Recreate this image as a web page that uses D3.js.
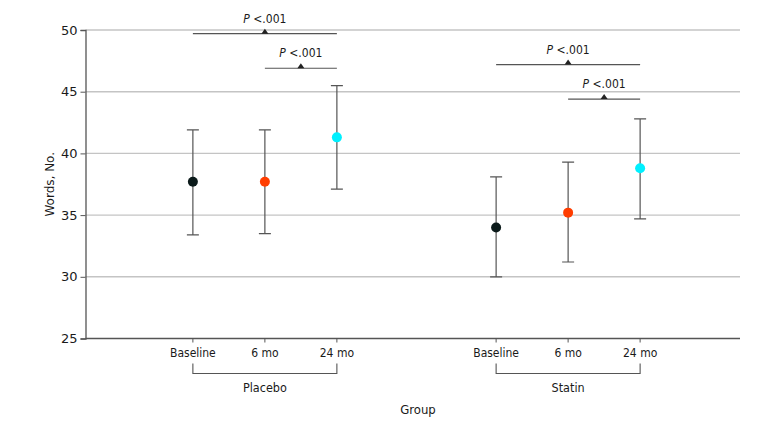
<!DOCTYPE html>
<html>
<head>
<meta charset="utf-8">
<script src="https://cdn.jsdelivr.net/npm/d3@7"></script>
<style>
	body{ margin: 0; background: #fff; }
	text{ font-family: "DejaVu Sans Condensed", "DejaVu Sans", sans-serif; fill: #1a1a1a; }
</style>
</head>
<body>
<div id="chart"></div>
<script>
// groups and time points
var groups = ["Placebo", "Statin"];
var times = ["Baseline", "6 mo", "24 mo"];
var timeColors = ["#0b1a1a", "#ff3d00", "#00f0ff"];
var yTicks = [25, 30, 35, 40, 45, 50];

// mean words, with lower / upper CI, one row per group (Baseline, 6 mo, 24 mo)
var means = [[37.7, 37.7, 41.3], [34.0, 35.2, 38.8]];
var lower = [[33.4, 33.5, 37.1], [30.0, 31.2, 34.7]];
var upper = [[41.9, 41.9, 45.5], [38.1, 39.3, 42.8]];

// significance brackets: group, from, to, height, label
var brackets = [
	{group: "Placebo", from: "Baseline", to: "24 mo", y: 49.7, label: ".001"},
	{group: "Placebo", from: "6 mo", to: "24 mo", y: 46.9, label: ".001"},
	{group: "Statin", from: "Baseline", to: "24 mo", y: 47.2, label: ".001"},
	{group: "Statin", from: "6 mo", to: "24 mo", y: 44.4, label: ".001"}
];

;(function(){
	var width = 780, height = 427,
		mLeft = 85.5, mRight = 740, mTop = 30, mBottom = 338.5;

	var svg = d3.select("#chart").append("svg")
		.attr("width", width)
		.attr("height", height);

	var y = d3.scaleLinear().domain([25, 50]).range([mBottom, mTop]);
	var gx = d3.scalePoint().domain(groups).range([89, 744]).padding(0.58);
	var tx = d3.scalePoint().domain(times).range([-72, 72]);
	function px(g, t){ return gx(g) + tx(t); }

	// grid
	svg.append("g").selectAll("line").data(yTicks.slice(1)).enter().append("line")
		.attr("x1", mLeft).attr("x2", mRight)
		.attr("y1", function(d){ return y(d); })
		.attr("y2", function(d){ return y(d); })
		.attr("stroke", "#c4c4c4").attr("stroke-width", 1.4);

	// y axis
	var yAxis = svg.append("g").attr("transform", "translate(" + mLeft + ",0)")
		.call(d3.axisLeft(y).tickValues(yTicks).tickSize(5).tickPadding(3));
	yAxis.select(".domain").attr("stroke", "#555").attr("stroke-width", 1.3);
	yAxis.selectAll(".tick line").attr("stroke", "#555");
	yAxis.selectAll(".tick text").attr("font-size", 13)
		.style("font-family", "'DejaVu Sans', sans-serif").attr("fill", "#1a1a1a");

	svg.append("text")
		.attr("transform", "translate(54," + (mTop + mBottom) / 2 + ") rotate(-90)")
		.attr("text-anchor", "middle")
		.attr("font-size", 12)
		.style("font-family", "'DejaVu Sans', sans-serif")
		.text("Words, No.");

	// x axis line
	svg.append("line")
		.attr("x1", mLeft).attr("x2", mRight)
		.attr("y1", mBottom).attr("y2", mBottom)
		.attr("stroke", "#555").attr("stroke-width", 1.3);

	groups.forEach(function(g, gi){
		var ga = svg.append("g");
		// ticks and labels
		times.forEach(function(t){
			ga.append("line")
				.attr("x1", px(g, t)).attr("x2", px(g, t))
				.attr("y1", mBottom).attr("y2", mBottom + 4)
				.attr("stroke", "#555");
			ga.append("text")
				.attr("x", px(g, t)).attr("y", mBottom + 18)
				.attr("text-anchor", "middle")
				.attr("font-size", 12)
				.text(t);
		});
		// group bracket
		var x0 = px(g, times[0]), x1 = px(g, times[times.length - 1]);
		ga.append("path")
			.attr("d", "M" + x0 + "," + (mBottom + 25) + "V" + (mBottom + 35) + "H" + x1 + "V" + (mBottom + 25))
			.attr("fill", "none").attr("stroke", "#555").attr("stroke-width", 1.1);
		ga.append("text")
			.attr("x", gx(g)).attr("y", mBottom + 53)
			.attr("text-anchor", "middle")
			.attr("font-size", 12.5)
			.text(g);

		// error bars and points
		times.forEach(function(t, ti){
			var x = px(g, t);
			ga.append("path")
				.attr("d", "M" + (x - 6) + "," + y(upper[gi][ti]) + "H" + (x + 6)
					+ "M" + x + "," + y(upper[gi][ti]) + "V" + y(lower[gi][ti])
					+ "M" + (x - 6) + "," + y(lower[gi][ti]) + "H" + (x + 6))
				.attr("fill", "none").attr("stroke", "#555").attr("stroke-width", 1.2);
			ga.append("circle")
				.attr("cx", x).attr("cy", y(means[gi][ti]))
				.attr("r", 5)
				.attr("fill", timeColors[ti]);
		});
	});

	svg.append("text")
		.attr("x", 418).attr("y", mBottom + 75)
		.attr("text-anchor", "middle")
		.attr("font-size", 13)
		.text("Group");

	// significance brackets
	var sig = svg.append("g").selectAll("g").data(brackets).enter().append("g");
	sig.append("line")
		.attr("x1", function(d){ return px(d.group, d.from); })
		.attr("x2", function(d){ return px(d.group, d.to); })
		.attr("y1", function(d){ return y(d.y); })
		.attr("y2", function(d){ return y(d.y); })
		.attr("stroke", "#555").attr("stroke-width", 1.2);
	sig.append("path")
		.attr("d", function(d){
			var cx = (px(d.group, d.from) + px(d.group, d.to)) / 2, cy = y(d.y);
			return "M" + (cx - 3.5) + "," + cy + "L" + cx + "," + (cy - 5) + "L" + (cx + 3.5) + "," + cy + "Z";
		})
		.attr("fill", "#222");
	var lab = sig.append("text")
		.attr("x", function(d){ return (px(d.group, d.from) + px(d.group, d.to)) / 2; })
		.attr("y", function(d){ return y(d.y) - 11; })
		.attr("text-anchor", "middle")
		.attr("font-size", 12);
	lab.append("tspan").attr("font-style", "italic").text("P");
	lab.append("tspan").text(" <");
	lab.append("tspan").text(function(d){ return d.label; });
})();
</script>
</body>
</html>
